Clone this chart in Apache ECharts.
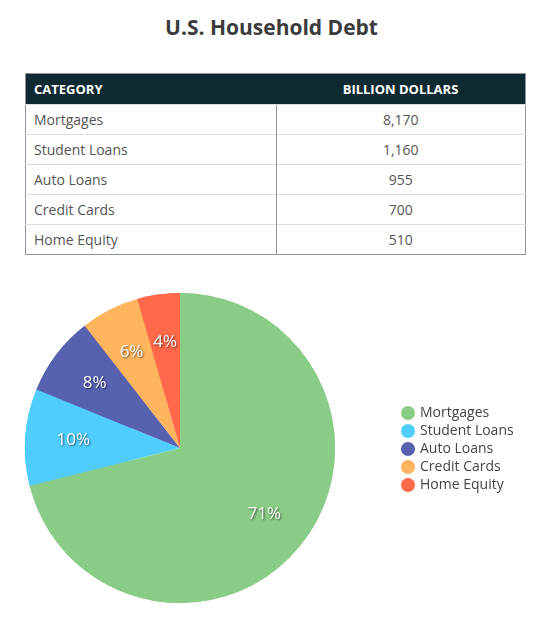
<!DOCTYPE html>
<html>
<head>
<meta charset="utf-8">
<script src="https://cdn.jsdelivr.net/npm/echarts@6/dist/echarts.min.js"></script>
<style>
  body { margin: 0; background: #fff; font-family: "Open Sans", sans-serif; }
  #title { position: absolute; left: 0; top: 13px; width: 543px; text-align: center;
           font-size: 21px; font-weight: bold; color: #3b3b3b; }
  #debtTable { position: absolute; left: 25px; top: 73px; width: 501px; border-collapse: collapse;
               border: 1px solid #8d969c; font-size: 14px; color: #555; }
  #debtTable th { background: #0f2a30; color: #fff; font-size: 13px; font-weight: bold; height: 30px;
                  padding: 0 8px; }
  #debtTable th.cat { text-align: left; }
  #debtTable td { height: 29px; border-top: 1px solid #dedede; padding: 0 8px; }
  #debtTable td.val { text-align: center; border-left: 1px solid #8d969c; }
  #main { position: absolute; left: 0; top: 260px; width: 543px; height: 359px; }
</style>
</head>
<body>
<div id="title">U.S. Household Debt</div>
<table id="debtTable"></table>
<div id="main"></div>
<script>
var categories = ['Mortgages', 'Student Loans', 'Auto Loans', 'Credit Cards', 'Home Equity'];
var values = [8170, 1160, 955, 700, 510];
var colors = ['#88cc85', '#4fcdff', '#5661b0', '#ffb45e', '#ff6849'];
var headers = ['CATEGORY', 'BILLION DOLLARS'];

// table from the same arrays
var html = '<tr><th class="cat" style="width:234px">' + headers[0] + '</th><th>' + headers[1] + '</th></tr>';
for (var i = 0; i < categories.length; i++) {
    html += '<tr><td>' + categories[i] + '</td><td class="val">' + values[i].toLocaleString('en-US') + '</td></tr>';
}
document.getElementById('debtTable').innerHTML = html;

var pieData = categories.map(function (c, i) {
    return { name: c, value: values[i], itemStyle: { color: colors[i] } };
});

var myChart = echarts.init(document.getElementById('main'));
var option = {
    animation: false,
    legend: {
        orient: 'vertical',
        left: 396,
        top: 141,
        icon: 'circle',
        itemWidth: 14,
        itemHeight: 14,
        itemGap: 4,
        textStyle: { fontSize: 14, color: '#444', fontFamily: '"Open Sans", sans-serif' },
        data: categories
    },
    series: [{
        type: 'pie',
        center: [180, 188],
        radius: [0, 155],
        startAngle: 90,
        label: { show: false },
        labelLine: { show: false },
        data: pieData
    }, {
        // label carrier, same slices, so labels sit further out than the default midpoint
        type: 'pie',
        center: [180, 188],
        radius: [53, 155],
        startAngle: 90,
        silent: true,
        label: {
            show: true,
            position: 'inside',
            color: '#fff',
            fontSize: 17,
            fontFamily: '"Open Sans", sans-serif',
            textShadowColor: 'rgba(0,0,0,0.6)',
            textShadowBlur: 2,
            textShadowOffsetX: 1,
            textShadowOffsetY: 1,
            formatter: function (p) { return Math.round(p.percent) + '%'; }
        },
        labelLine: { show: false },
        data: pieData
    }]
};
myChart.setOption(option);
</script>
</body>
</html>
